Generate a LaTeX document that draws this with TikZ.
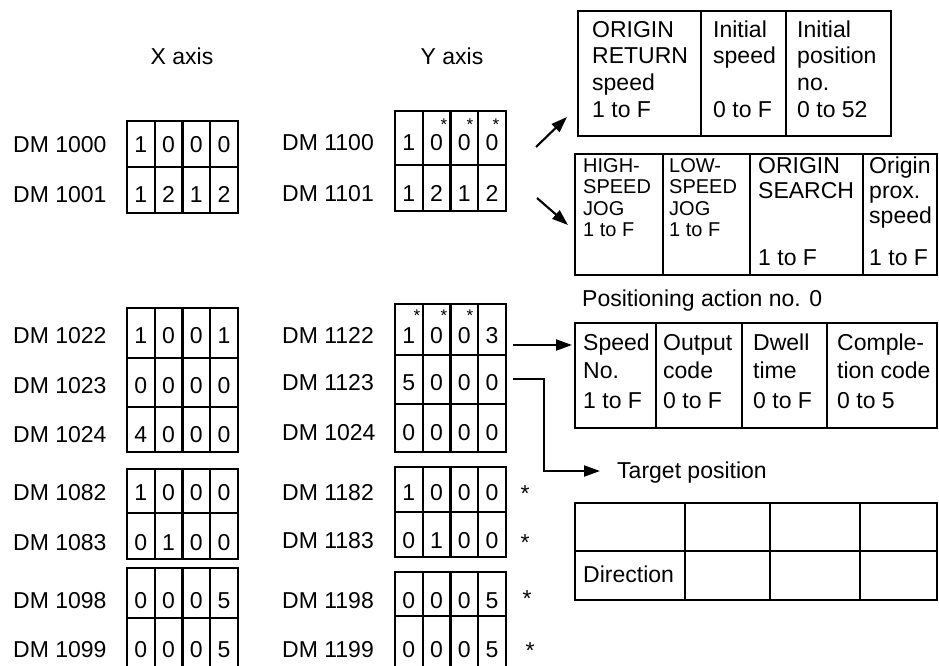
\documentclass[tikz,border=0pt]{standalone}
\usepackage{fontspec}
\setmainfont{Liberation Sans}
\usetikzlibrary{arrows.meta}
\tikzset{
  cellbox/.style={draw, line width=2.3pt, inner sep=0pt, outer sep=0pt},
  txt/.style={font=\fontsize{23}{27}\selectfont, inner sep=0pt, anchor=base west},
  smalltxt/.style={font=\fontsize{20}{24}\selectfont, inner sep=0pt, anchor=base west},
  hdr/.style={font=\fontsize{23}{27}\selectfont, inner sep=0pt, anchor=base},
  digit/.style={font=\fontsize{23}{27}\selectfont, inner sep=0pt, anchor=base},
  smallstar/.style={font=\fontsize{17}{20}\selectfont, inner sep=0pt, anchor=base},
  bigstar/.style={font=\fontsize{23}{27}\selectfont, inner sep=0pt, anchor=base},
  conn/.style={line width=2.1pt},
  arr/.style={line width=2.1pt, -{Triangle[length=16pt,width=11pt]}},
}
\newcommand{\gridrow}[9]{%
  \foreach \d [count=\i from 0] in {#6,#7,#8,#9}{%
    \node[cellbox, minimum width=27.75pt, minimum height={#4-#3}] (#1c\i) at ({#2+27.75*\i+13.875},{(#3+#4)/2}) {};
    \node[digit] (#1d\i) at ({#2+27.75*\i+13.875},#5) {\d};
  }}
\newcommand{\bcell}[5]{%
  \node[cellbox, minimum width={#4-#2}, minimum height={#5-#3}] (#1) at ({(#2+#4)/2},{(#3+#5)/2}) {};}
\begin{document}
\begin{tikzpicture}[x=1pt,y=-1pt]
\useasboundingbox (0,0) rectangle (939,665);

% headers
\node[hdr] (xhead) at (182,64.5) {X axis};
\node[hdr] (yhead) at (452,64.5) {Y axis};

% X axis grids
\gridrow{xaa}{127}{121}{167}{152}{1}{0}{0}{0}
\gridrow{xab}{127}{167}{213}{202}{1}{2}{1}{2}
\gridrow{xba}{127}{308}{358}{343}{1}{0}{0}{1}
\gridrow{xbb}{127}{358}{407}{393}{0}{0}{0}{0}
\gridrow{xbc}{127}{407}{452}{442}{4}{0}{0}{0}
\gridrow{xca}{127}{469}{513}{500}{1}{0}{0}{0}
\gridrow{xcb}{127}{513}{559}{550}{0}{1}{0}{0}
\gridrow{xda}{127}{568}{618}{608}{0}{0}{0}{5}
\gridrow{xdb}{127}{618}{669}{657}{0}{0}{0}{5}

% Y axis grids
\gridrow{yaa}{395}{111}{165}{150}{1}{0}{0}{0}
\gridrow{yab}{395}{165}{211}{201}{1}{2}{1}{2}
\gridrow{yba}{395}{304}{355}{343}{1}{0}{0}{3}
\gridrow{ybb}{395}{355}{404}{390}{5}{0}{0}{0}
\gridrow{ybc}{395}{404}{452}{440}{0}{0}{0}{0}
\gridrow{yca}{395}{467}{512}{500}{1}{0}{0}{0}
\gridrow{ycb}{395}{512}{557}{548}{0}{1}{0}{0}
\gridrow{yda}{395}{572}{616}{608}{0}{0}{0}{5}
\gridrow{ydb}{395}{616}{669}{657}{0}{0}{0}{5}

% small asterisks
\node[smallstar] (sa1) at (444,130) {*};
\node[smallstar] (sa2) at (470,130) {*};
\node[smallstar] (sa3) at (496,130) {*};
\node[smallstar] (sb1) at (417,321) {*};
\node[smallstar] (sb2) at (444,321) {*};
\node[smallstar] (sb3) at (470,321) {*};

% side asterisks
\node[bigstar] (sc1) at (525,501) {*};
\node[bigstar] (sc2) at (525,550) {*};
\node[bigstar] (sc3) at (527,606) {*};
\node[bigstar] (sc4) at (530,658) {*};

% X labels
\node[txt] (l1000) at (13,152) {DM 1000};
\node[txt] (l1001) at (13,202) {DM 1001};
\node[txt] (l1022) at (13,343) {DM 1022};
\node[txt] (l1023) at (13,393) {DM 1023};
\node[txt] (l1024) at (13,442) {DM 1024};
\node[txt] (l1082) at (13,500) {DM 1082};
\node[txt] (l1083) at (13,550) {DM 1083};
\node[txt] (l1098) at (13,608) {DM 1098};
\node[txt] (l1099) at (13,657) {DM 1099};

% Y labels
\node[txt] (l1100) at (282,150) {DM 1100};
\node[txt] (l1101) at (282,201) {DM 1101};
\node[txt] (l1122) at (282,343) {DM 1122};
\node[txt] (l1123) at (282,390) {DM 1123};
\node[txt] (l1024b) at (282,440) {DM 1024};
\node[txt] (l1182) at (282,500) {DM 1182};
\node[txt] (l1183) at (282,548) {DM 1183};
\node[txt] (l1198) at (282,608) {DM 1198};
\node[txt] (l1199) at (282,657) {DM 1199};

% top box
\bcell{ta}{578}{11}{701}{136}
\bcell{tb}{701}{11}{786}{136}
\bcell{tc}{786}{11}{891}{136}
\node[txt] (ta1) at (592,37) {ORIGIN};
\node[txt] (ta2) at (592,63.7) {RETURN};
\node[txt] (ta3) at (592,90.3) {speed};
\node[txt] (ta4) at (592,117) {1 to F};
\node[txt] (tb1) at (713,37) {Initial};
\node[txt] (tb2) at (713,63.7) {speed};
\node[txt] (tb4) at (713,117) {0 to F};
\node[txt] (tc1) at (797,37) {Initial};
\node[txt] (tc2) at (797,63.7) {position};
\node[txt] (tc3) at (797,90.3) {no.};
\node[txt] (tc4) at (797,117) {0 to 52};

% second box
\bcell{ba}{575}{154}{663}{275}
\bcell{bb}{663}{154}{750}{275}
\bcell{bc}{750}{154}{863}{275}
\bcell{bd}{863}{154}{937}{275}
\node[smalltxt] (ba1) at (583,172) {HIGH-};
\node[smalltxt] (ba2) at (583,193.5) {SPEED};
\node[smalltxt] (ba3) at (583,215) {JOG};
\node[smalltxt] (ba4) at (583,236) {1 to F};
\node[smalltxt] (bb1) at (669,172) {LOW-};
\node[smalltxt] (bb2) at (669,193.5) {SPEED};
\node[smalltxt] (bb3) at (669,215) {JOG};
\node[smalltxt] (bb4) at (669,236) {1 to F};
\node[txt] (bc1) at (758,173) {ORIGIN};
\node[txt] (bc2) at (758,198) {SEARCH};
\node[txt] (bc4) at (758,265) {1 to F};
\node[txt] (bd1) at (869,173) {Origin};
\node[txt] (bd2) at (869,198) {prox.};
\node[txt] (bd3) at (869,223) {speed};
\node[txt] (bd4) at (869,265) {1 to F};

% positioning action
\node[txt] (pos) at (582,306) {Positioning action no. 0};
\bcell{pa}{575}{323}{656}{428}
\bcell{pb}{656}{323}{742}{428}
\bcell{pc}{742}{323}{827}{428}
\bcell{pd}{827}{323}{937}{428}
\node[txt] (pa1) at (583,350) {Speed};
\node[txt] (pa2) at (583,378.5) {No.};
\node[txt] (pa3) at (583,408) {1 to F};
\node[txt] (pb1) at (663,350) {Output};
\node[txt] (pb2) at (663,378.5) {code};
\node[txt] (pb3) at (663,408) {0 to F};
\node[txt] (pc1) at (753,350) {Dwell};
\node[txt] (pc2) at (753,378.5) {time};
\node[txt] (pc3) at (753,408) {0 to F};
\node[txt] (pd1) at (837,350) {Comple-};
\node[txt] (pd2) at (837,378.5) {tion code};
\node[txt] (pd3) at (837,408) {0 to 5};

% target position
\node[txt] (tgt) at (617,478.5) {Target position};
\bcell{da}{575}{503}{685}{551}
\bcell{db}{685}{503}{770}{551}
\bcell{dc}{770}{503}{860}{551}
\bcell{dd}{860}{503}{937}{551}
\bcell{ea}{575}{551}{685}{600}
\bcell{eb}{685}{551}{770}{600}
\bcell{ec}{770}{551}{860}{600}
\bcell{ed}{860}{551}{937}{600}
\node[txt] (dir) at (583,582) {Direction};

% connectors
\coordinate (a1s) at (536,147);
\coordinate (a1e) at (567,117);
\coordinate (a2s) at (537,198);
\coordinate (a2e) at (568,225);
\coordinate (a3s) at (513,345);
\coordinate (a3e) at (572,345);
\coordinate (a4s) at (513,379);
\coordinate (a4b) at (544,379);
\coordinate (a4c) at (544,471);
\coordinate (a4e) at (600,471);
\draw[arr] (a1s) -- (a1e);
\draw[arr] (a2s) -- (a2e);
\draw[arr] (a3s) -- (a3e);
\draw[arr] (a4s) -- (a4b) -- (a4c) -- (a4e);
\end{tikzpicture}
\end{document}
